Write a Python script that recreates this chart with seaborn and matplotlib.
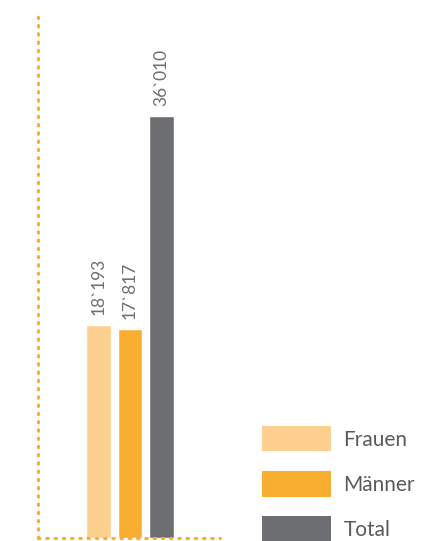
import matplotlib
matplotlib.use("Agg")
import matplotlib.pyplot as plt
import seaborn as sns
import pandas as pd
from matplotlib.patches import Patch

categories = ["Frauen", "Männer", "Total"]
values = [18193, 17817, 36010]
labels = ["18`193", "17`817", "36`010"]
colors = ["#fdd08f", "#f9ae32", "#6d6e71"]

sns.set_style("white")
plt.rcParams["font.family"] = ["Lato", "DejaVu Sans"]

df = pd.DataFrame({"cat": categories, "val": values})

fig = plt.figure(figsize=(4.24, 5.41), dpi=100)
ax = fig.add_axes([38 / 424, 3 / 541, (220 - 38) / 424, (538 - 12) / 541])
sns.barplot(data=df, x="cat", y="val", hue="cat", palette=colors, width=0.79,
            ax=ax, legend=False, saturation=1)

ax.set_xlim(-1.92, 3.86)
ax.set_ylim(0, 44885)
ax.set_xlabel("")
ax.set_ylabel("")
ax.set_xticks([])
ax.set_yticks([])

for side in ["top", "right"]:
    ax.spines[side].set_visible(False)
for side in ["left", "bottom"]:
    ax.spines[side].set_color("#f9ae32")
    ax.spines[side].set_linestyle((0, (0.5, 2.2)))
    ax.spines[side].set_linewidth(2.2)
    ax.spines[side].set_capstyle("round")

for cont in ax.containers:
    lab = [labels[int(round(p.get_x() + p.get_width() / 2))] for p in cont]
    ax.bar_label(cont, labels=lab, rotation=90, padding=7, fontsize=12.5,
                 color="#6d6e71")

handles = [Patch(facecolor=c, edgecolor="none") for c in colors]
leg = fig.legend(handles, categories, loc="upper left",
                 bbox_to_anchor=(262 / 424, 1 - 426 / 541), frameon=False,
                 fontsize=15, handlelength=3.3, handleheight=1.5,
                 labelspacing=0.95, handletextpad=0.6, borderpad=0,
                 borderaxespad=0)
for t in leg.get_texts():
    t.set_color("#5a5a5a")

fig.savefig("out.png", dpi=100)
